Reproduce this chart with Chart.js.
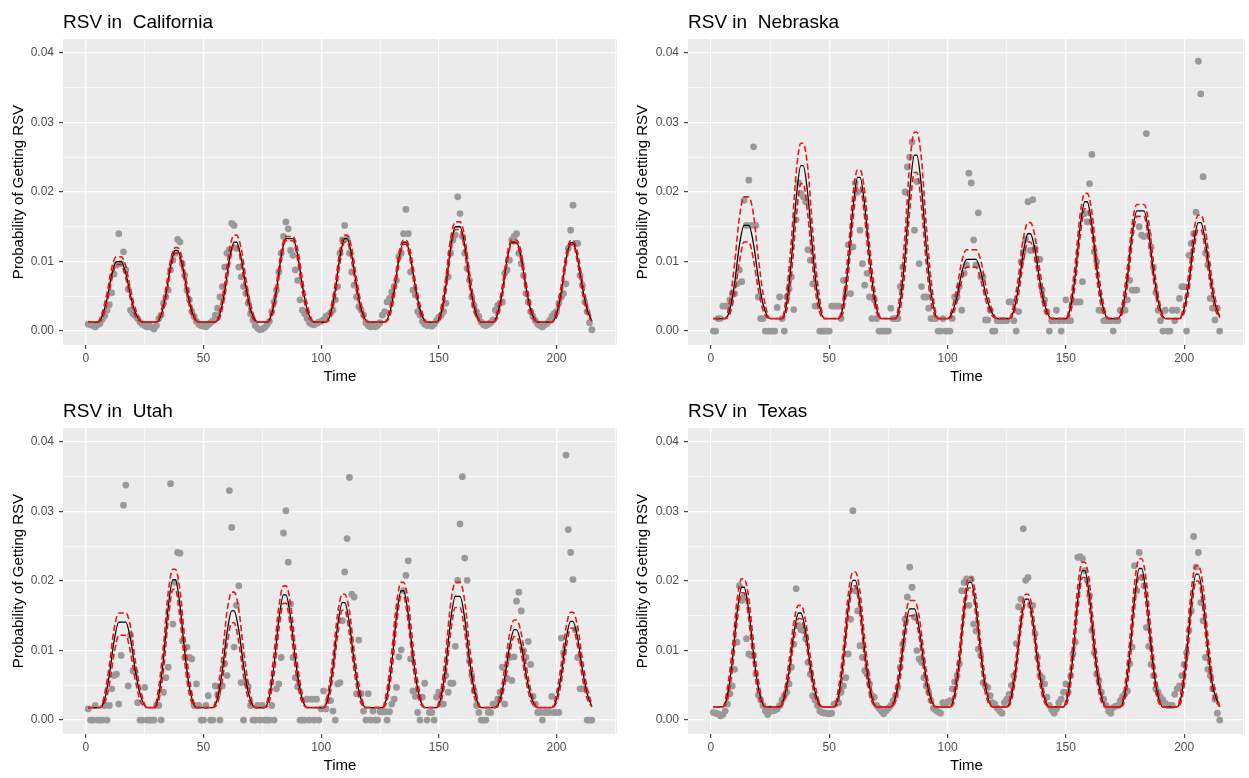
<!DOCTYPE html>
<html>
<head>
<meta charset="utf-8">
<title>RSV</title>
<script src="https://cdn.jsdelivr.net/npm/chart.js@4.4.1/dist/chart.umd.min.js"></script>
<style>
  body { margin: 0; background: #ffffff; }
  canvas { position: absolute; }
</style>
</head>
<body>
<canvas id="cali" width="624" height="389" style="left:0px;top:0px"></canvas>
<canvas id="nebr" width="625" height="389" style="left:624px;top:0px"></canvas>
<canvas id="utah" width="624" height="389" style="left:0px;top:389px"></canvas>
<canvas id="texa" width="625" height="389" style="left:624px;top:389px"></canvas>
<script>
// all values below are in units of 1e-4 (probability * 10000)
const titles = ['RSV in  California', 'RSV in  Nebraska', 'RSV in  Utah', 'RSV in  Texas'];
const xTicks = [0, 25, 50, 75, 100, 125, 150, 175, 200, 225];
const yTicks = [0, 0.005, 0.01, 0.015, 0.02, 0.025, 0.03, 0.035, 0.04];

// observed points, one per week (week 1..215)
const caObs = [
  10, 9, 8, 6, 9, 11, 17, 22, 30, 38,
  55, 82, 95, 140, 97, 114, 88, 60, 30, 25,
  22, 18, 13, 10, 8, 6, 9, 5, 3, 8,
  18, 23, 40, 49, 59, 88, 102, 112, 132, 128,
  97, 80, 59, 45, 28, 21, 14, 10, 8, 7,
  6, 9, 12, 15, 23, 33, 49, 64, 92, 112,
  117, 155, 152, 119, 92, 78, 64, 54, 40, 25,
  16, 8, 4, 2, 3, 5, 9, 14, 28, 42,
  59, 85, 112, 136, 157, 147, 116, 109, 88, 73,
  45, 30, 25, 18, 12, 10, 9, 11, 13, 14,
  16, 21, 23, 26, 30, 45, 64, 112, 131, 152,
  133, 112, 85, 66, 49, 35, 30, 23, 12, 8,
  6, 7, 6, 8, 12, 23, 28, 42, 47, 56,
  64, 73, 107, 112, 140, 175, 140, 85, 59, 52,
  28, 23, 14, 10, 8, 9, 7, 10, 15, 20,
  23, 28, 40, 78, 112, 131, 138, 193, 169, 136,
  112, 90, 73, 49, 37, 28, 21, 13, 9, 8,
  10, 12, 16, 30, 37, 40, 42, 83, 88, 102,
  131, 136, 140, 112, 97, 80, 54, 42, 28, 21,
  15, 10, 8, 6, 9, 11, 15, 21, 25, 28,
  40, 49, 54, 68, 119, 145, 181, 126, 126, 80,
  66, 42, 28, 12, 2
];
const neObs = [
  0, 0, 18, 18, 36, 36, 36, 45, 54, 54,
  68, 88, 71, 188, 152, 217, 152, 265, 152, 49,
  18, 18, 0, 0, 0, 0, 0, 34, 49, 18,
  0, 49, 61, 78, 31, 160, 213, 198, 193, 186,
  117, 102, 68, 36, 36, 0, 0, 0, 0, 0,
  36, 36, 36, 36, 18, 73, 54, 124, 54, 121,
  213, 200, 145, 97, 66, 83, 49, 18, 45, 18,
  0, 0, 0, 0, 0, 33, 18, 18, 18, 64,
  92, 200, 236, 250, 272, 145, 215, 97, 64, 49,
  49, 33, 18, 18, 18, 0, 0, 18, 0, 0,
  0, 18, 49, 49, 64, 30, 83, 95, 227, 213,
  131, 95, 170, 78, 78, 16, 16, 30, 0, 0,
  15, 15, 15, 15, 15, 42, 42, 15, 0, 28,
  100, 114, 132, 186, 116, 189, 119, 102, 103, 59,
  45, 28, 0, 15, 15, 30, 15, 0, 15, 45,
  15, 15, 42, 42, 42, 42, 71, 169, 157, 212,
  254, 114, 100, 30, 30, 15, 15, 15, 15, 0,
  15, 15, 30, 30, 30, 45, 73, 59, 59, 59,
  150, 138, 136, 284, 138, 121, 92, 55, 30, 15,
  0, 30, 0, 0, 30, 15, 30, 47, 64, 64,
  0, 109, 126, 140, 171, 388, 341, 222, 112, 95,
  47, 33, 16, 33, 0
];
const utObs = [
  16, 0, 0, 21, 0, 0, 0, 21, 0, 21,
  45, 64, 66, 23, 93, 309, 338, 49, 122, 71,
  69, 25, 0, 0, 47, 0, 0, 0, 0, 21,
  21, 0, 40, 61, 76, 340, 138, 198, 241, 240,
  114, 90, 105, 90, 88, 21, 52, 21, 0, 0,
  21, 35, 0, 0, 49, 37, 0, 49, 81, 64,
  330, 277, 105, 165, 193, 54, 0, 54, 48, 21,
  0, 0, 21, 0, 21, 0, 0, 0, 21, 0,
  45, 52, 90, 269, 301, 227, 167, 90, 61, 48,
  0, 0, 0, 30, 0, 30, 0, 30, 0, 16,
  42, 16, 28, 28, 13, 0, 52, 54, 143, 213,
  261, 349, 181, 177, 38, 115, 38, 13, 0, 38,
  0, 13, 0, 0, 12, 12, 12, 0, 12, 23,
  30, 47, 91, 101, 186, 208, 229, 88, 42, 34,
  11, 0, 33, 53, 0, 11, 11, 0, 33, 40,
  23, 23, 64, 40, 53, 53, 106, 201, 282, 350,
  233, 201, 85, 64, 42, 21, 11, 0, 0, 0,
  11, 11, 23, 23, 30, 40, 76, 23, 60, 90,
  57, 91, 171, 184, 157, 100, 90, 113, 80, 34,
  23, 11, 11, 0, 11, 11, 11, 34, 11, 11,
  11, 118, 97, 381, 274, 241, 202, 130, 90, 45,
  45, 45, 0, 0, 0
];
const txObs = [
  11, 10, 9, 6, 8, 13, 23, 38, 49, 73,
  112, 193, 172, 177, 117, 95, 93, 93, 66, 36,
  29, 21, 13, 8, 16, 13, 14, 16, 21, 29,
  35, 40, 52, 76, 109, 189, 136, 130, 129, 117,
  83, 66, 35, 29, 21, 13, 11, 10, 10, 9,
  10, 23, 24, 25, 40, 49, 61, 95, 145, 301,
  186, 157, 107, 90, 71, 66, 52, 35, 33, 21,
  17, 13, 9, 13, 17, 21, 28, 35, 47, 76,
  109, 145, 177, 220, 191, 148, 100, 88, 83, 61,
  49, 40, 28, 17, 14, 12, 10, 25, 24, 26,
  28, 45, 55, 64, 81, 186, 198, 203, 165, 203,
  138, 128, 102, 93, 54, 49, 47, 35, 25, 23,
  17, 13, 10, 25, 30, 37, 50, 64, 110, 163,
  174, 275, 201, 205, 165, 165, 124, 90, 64, 61,
  52, 33, 21, 15, 10, 16, 25, 30, 40, 52,
  40, 64, 95, 112, 234, 235, 232, 215, 201, 179,
  129, 97, 66, 57, 40, 30, 21, 13, 10, 18,
  20, 21, 28, 34, 38, 42, 81, 105, 222, 186,
  241, 205, 193, 133, 106, 80, 64, 45, 40, 33,
  29, 24, 21, 21, 21, 37, 45, 49, 64, 80,
  97, 129, 157, 264, 220, 241, 169, 143, 90, 73,
  64, 45, 30, 10, 0
];

// fitted curve (black) and the two dashed red bands, read at these weeks
const caKnots = [1,
  5, 7, 9, 11, 13, 15, 17, 19, 21, 24,
  30, 32, 34, 36, 38, 39, 41, 43, 45, 48,
  55, 57, 59, 61, 63, 64, 66, 68, 70, 73,
  77, 79, 81, 83, 85, 88, 90, 92, 94, 97,
  102, 104, 106, 108, 110, 111, 113, 115, 117, 120,
  127, 129, 131, 133, 135, 136, 138, 140, 142, 145,
  149, 151, 153, 155, 157, 159, 161, 163, 165, 168,
  173, 175, 177, 179, 181, 183, 185, 187, 189, 192,
  198, 200, 202, 204, 206, 207, 209, 211, 213, 215];
const caFit = [13,
  13, 22, 46, 81, 100, 100, 83, 51, 27, 13,
  13, 23, 52, 93, 116, 116, 95, 58, 29, 13,
  13, 25, 57, 103, 128, 128, 105, 64, 31, 13,
  13, 25, 59, 107, 133, 133, 109, 66, 32, 13,
  13, 25, 59, 107, 133, 133, 109, 66, 32, 13,
  13, 25, 57, 103, 128, 128, 105, 64, 31, 13,
  13, 27, 65, 120, 150, 150, 123, 73, 35, 13,
  13, 25, 57, 103, 128, 128, 105, 64, 31, 13,
  13, 24, 56, 102, 127, 127, 104, 63, 31, 15];
const caUpper = [13,
  13, 27, 55, 91, 107, 107, 93, 60, 33, 13,
  13, 29, 61, 102, 120, 120, 104, 67, 35, 13,
  13, 32, 69, 117, 138, 138, 119, 76, 39, 13,
  13, 31, 68, 115, 136, 136, 118, 75, 39, 13,
  13, 32, 69, 117, 138, 138, 119, 76, 39, 13,
  13, 31, 66, 111, 131, 131, 113, 72, 38, 13,
  13, 35, 78, 133, 157, 157, 135, 85, 43, 13,
  13, 31, 66, 111, 131, 131, 113, 72, 38, 13,
  13, 31, 66, 110, 130, 130, 112, 72, 38, 16];
const caLower = [13,
  13, 18, 40, 74, 96, 96, 76, 45, 22, 13,
  13, 19, 45, 86, 112, 112, 88, 51, 24, 13,
  13, 20, 49, 95, 124, 124, 97, 55, 25, 13,
  13, 20, 50, 100, 130, 130, 102, 57, 26, 13,
  13, 20, 50, 98, 128, 128, 100, 57, 26, 13,
  13, 20, 49, 96, 125, 125, 98, 56, 25, 13,
  13, 21, 56, 111, 146, 146, 114, 64, 28, 13,
  13, 20, 49, 97, 126, 126, 99, 56, 25, 13,
  13, 20, 49, 95, 124, 124, 97, 55, 25, 14];

const neKnots = [1,
  6, 8, 10, 12, 14, 16, 18, 20, 22, 25,
  30, 32, 34, 36, 38, 39, 41, 43, 45, 48,
  54, 56, 58, 60, 62, 63, 65, 67, 69, 72,
  78, 80, 82, 84, 86, 87, 89, 91, 93, 96,
  100, 102, 104, 106, 108, 112, 114, 116, 118, 121,
  126, 128, 130, 132, 134, 135, 137, 139, 141, 144,
  150, 152, 154, 156, 158, 159, 161, 163, 165, 168,
  172, 174, 176, 178, 180, 183, 185, 187, 189, 192,
  198, 200, 202, 204, 206, 207, 209, 211, 213, 215];
const neFit = [18,
  18, 31, 69, 123, 152, 152, 125, 77, 39, 18,
  18, 40, 102, 190, 238, 238, 194, 115, 53, 18,
  18, 38, 95, 176, 221, 221, 180, 107, 50, 18,
  18, 42, 107, 201, 253, 253, 206, 121, 56, 18,
  18, 27, 50, 84, 103, 103, 86, 55, 32, 18,
  18, 30, 64, 113, 140, 140, 116, 72, 38, 18,
  18, 35, 82, 149, 186, 186, 152, 92, 45, 18,
  18, 34, 77, 139, 173, 173, 142, 86, 43, 18,
  18, 32, 70, 126, 156, 156, 128, 79, 40, 20];
const neUpper = [18,
  18, 44, 97, 163, 193, 193, 167, 106, 55, 18,
  18, 56, 131, 227, 270, 270, 232, 144, 71, 18,
  18, 50, 114, 196, 232, 232, 200, 125, 63, 18,
  18, 58, 139, 240, 286, 286, 246, 152, 74, 18,
  18, 33, 63, 100, 117, 117, 102, 68, 39, 18,
  18, 39, 80, 133, 156, 156, 135, 87, 47, 18,
  18, 45, 99, 167, 198, 198, 171, 108, 56, 18,
  18, 43, 92, 154, 182, 182, 157, 100, 52, 18,
  18, 40, 85, 142, 167, 167, 145, 93, 49, 21];
const neLower = [18,
  18, 25, 53, 99, 128, 128, 102, 60, 30, 18,
  18, 30, 80, 162, 212, 212, 165, 92, 39, 18,
  18, 29, 79, 159, 208, 208, 162, 90, 39, 18,
  18, 31, 85, 173, 228, 228, 178, 98, 41, 18,
  18, 22, 42, 73, 92, 92, 74, 46, 26, 18,
  18, 25, 53, 99, 128, 128, 102, 60, 30, 18,
  18, 27, 69, 135, 176, 176, 138, 78, 35, 18,
  18, 27, 65, 127, 165, 165, 130, 74, 34, 18,
  18, 26, 59, 113, 146, 146, 115, 67, 32, 19];

const utKnots = [1,
  6, 8, 10, 12, 14, 17, 19, 21, 23, 26,
  29, 31, 33, 35, 37, 38, 40, 42, 44, 47,
  54, 56, 58, 60, 62, 63, 65, 67, 69, 72,
  76, 78, 80, 82, 84, 85, 87, 89, 91, 94,
  101, 103, 105, 107, 109, 110, 112, 114, 116, 119,
  126, 128, 130, 132, 134, 135, 137, 139, 141, 144,
  149, 151, 153, 155, 157, 159, 161, 163, 165, 168,
  174, 176, 178, 180, 182, 183, 185, 187, 189, 192,
  198, 200, 202, 204, 206, 207, 209, 211, 213, 215];
const utFit = [18,
  18, 30, 65, 114, 141, 141, 116, 72, 38, 18,
  18, 36, 88, 162, 202, 202, 165, 99, 47, 18,
  18, 32, 71, 126, 157, 157, 129, 79, 40, 18,
  18, 34, 80, 144, 180, 180, 148, 89, 44, 18,
  18, 33, 75, 136, 169, 169, 139, 84, 42, 18,
  18, 35, 82, 149, 186, 186, 152, 92, 45, 18,
  18, 34, 79, 143, 178, 178, 146, 88, 44, 18,
  18, 29, 61, 105, 130, 130, 108, 67, 36, 18,
  18, 30, 65, 115, 142, 142, 117, 73, 38, 20];
const utUpper = [18,
  18, 38, 79, 131, 154, 154, 134, 86, 47, 18,
  18, 48, 108, 183, 217, 217, 187, 118, 60, 18,
  18, 43, 93, 156, 184, 184, 159, 101, 53, 18,
  18, 44, 97, 163, 193, 193, 167, 106, 55, 18,
  18, 42, 91, 153, 181, 181, 157, 100, 52, 18,
  18, 45, 99, 167, 198, 198, 171, 108, 56, 18,
  18, 45, 99, 167, 198, 198, 171, 108, 56, 18,
  18, 37, 75, 123, 144, 144, 125, 81, 44, 18,
  18, 39, 80, 132, 155, 155, 134, 87, 47, 22];
const utLower = [18,
  18, 24, 51, 95, 122, 122, 97, 58, 29, 18,
  18, 28, 72, 144, 188, 188, 147, 83, 37, 18,
  18, 25, 57, 108, 140, 140, 111, 64, 31, 18,
  18, 27, 66, 129, 168, 168, 132, 75, 35, 18,
  18, 26, 63, 122, 158, 158, 124, 71, 33, 18,
  18, 28, 69, 136, 178, 178, 140, 79, 36, 18,
  18, 27, 64, 125, 162, 162, 127, 73, 34, 18,
  18, 24, 51, 93, 120, 120, 96, 57, 29, 18,
  18, 25, 54, 102, 132, 132, 105, 61, 31, 19];

const txKnots = [1,
  5, 7, 9, 11, 13, 14, 16, 18, 20, 23,
  29, 31, 33, 35, 37, 38, 40, 42, 44, 47,
  52, 54, 56, 58, 60, 61, 63, 65, 67, 70,
  76, 78, 80, 82, 84, 86, 88, 90, 92, 95,
  101, 103, 105, 107, 109, 110, 112, 114, 116, 119,
  125, 127, 129, 131, 133, 134, 136, 138, 140, 143,
  149, 151, 153, 155, 157, 158, 160, 162, 164, 167,
  173, 175, 177, 179, 181, 182, 184, 186, 188, 191,
  197, 199, 201, 203, 205, 206, 208, 210, 212, 215];
const txFit = [19,
  19, 36, 84, 153, 191, 191, 157, 95, 47, 19,
  19, 33, 70, 124, 154, 154, 127, 78, 41, 19,
  19, 37, 88, 161, 201, 201, 165, 99, 48, 19,
  19, 33, 73, 129, 160, 160, 132, 81, 42, 19,
  19, 37, 87, 159, 198, 198, 162, 98, 48, 19,
  19, 35, 78, 140, 174, 174, 143, 87, 44, 19,
  19, 39, 93, 172, 215, 215, 176, 105, 50, 19,
  19, 39, 95, 174, 218, 218, 178, 107, 51, 19,
  19, 38, 92, 168, 210, 210, 172, 103, 50, 19];
const txUpper = [19,
  19, 47, 102, 172, 203, 203, 175, 111, 58, 19,
  19, 41, 85, 140, 165, 165, 143, 92, 50, 19,
  19, 48, 106, 180, 213, 213, 184, 116, 60, 19,
  19, 42, 88, 146, 172, 172, 149, 96, 51, 19,
  19, 47, 103, 173, 205, 205, 177, 112, 58, 19,
  19, 43, 92, 153, 181, 181, 157, 100, 53, 19,
  19, 50, 113, 192, 227, 227, 196, 123, 63, 19,
  19, 51, 115, 196, 232, 232, 200, 126, 64, 19,
  19, 49, 110, 187, 222, 222, 192, 121, 62, 19];
const txLower = [19,
  19, 29, 71, 140, 183, 183, 144, 81, 37, 19,
  19, 27, 60, 113, 146, 146, 116, 67, 33, 19,
  19, 29, 75, 148, 193, 193, 151, 85, 38, 19,
  19, 27, 61, 116, 150, 150, 119, 69, 33, 19,
  19, 29, 74, 146, 190, 190, 149, 84, 38, 19,
  19, 28, 67, 129, 168, 168, 132, 76, 35, 19,
  19, 30, 79, 157, 205, 205, 160, 90, 39, 19,
  19, 30, 79, 159, 208, 208, 163, 91, 40, 19,
  19, 30, 77, 153, 200, 200, 157, 88, 39, 19];

Chart.defaults.font.family = '"Liberation Sans", Arial, Helvetica, sans-serif';

// grey panel behind the grid, like ggplot
const panelBg = {
  id: 'panelBg',
  beforeDraw(chart) {
    const a = chart.chartArea;
    chart.ctx.save();
    chart.ctx.fillStyle = '#ebebeb';
    chart.ctx.fillRect(a.left, a.top, a.right - a.left, a.bottom - a.top);
    chart.ctx.restore();
  }
};

// title sits at the left edge of the panel
const panelTitle = {
  id: 'panelTitle',
  afterDraw(chart, args, opts) {
    const ctx = chart.ctx;
    ctx.save();
    ctx.font = '19px "Liberation Sans", Arial, sans-serif';
    ctx.fillStyle = '#000000';
    ctx.textAlign = 'left';
    ctx.textBaseline = 'alphabetic';
    ctx.fillText(opts.text, chart.chartArea.left, 28);
    ctx.restore();
  }
};

function toPoints(xs, vals) {
  return vals.map((v, i) => ({x: xs[i], y: v / 10000}));
}

function makeChart(id, title, obs, knots, fit, upper, lower, yWidth, padRight) {
  const weeks = obs.map((v, i) => i + 1);
  const red = 'rgb(240, 20, 20)';
  return new Chart(document.getElementById(id), {
    type: 'line',
    data: {
      datasets: [
        {data: toPoints(knots, upper), borderColor: red, borderWidth: 1.6, borderDash: [6, 3],
         pointRadius: 0, cubicInterpolationMode: 'monotone', order: 0},
        {data: toPoints(knots, lower), borderColor: red, borderWidth: 1.6, borderDash: [6, 3],
         pointRadius: 0, cubicInterpolationMode: 'monotone', order: 0},
        {data: toPoints(knots, fit), borderColor: '#000000', borderWidth: 1.3,
         pointRadius: 0, cubicInterpolationMode: 'monotone', order: 1},
        {data: toPoints(weeks, obs), showLine: false, pointRadius: 3.4, pointBorderWidth: 0,
         pointBackgroundColor: '#999999', pointBorderColor: '#999999', order: 2}
      ]
    },
    options: {
      responsive: false,
      animation: false,
      events: [],
      layout: {padding: {top: 39, right: padRight, bottom: 0, left: 0}},
      plugins: {
        legend: {display: false},
        tooltip: {enabled: false},
        panelTitle: {text: title}
      },
      scales: {
        x: {
          type: 'linear', min: -9.7, max: 225.7,
          afterBuildTicks: s => { s.ticks = xTicks.map(v => ({value: v})); },
          afterFit: s => { s.height = 44; },
          border: {display: false},
          grid: {
            color: '#ffffff',
            lineWidth: c => (c.index % 2 ? 0.6 : 1.3),
            tickColor: c => (c.index % 2 ? 'rgba(0,0,0,0)' : '#333333'),
            tickLength: 4, tickWidth: 1.1
          },
          ticks: {
            autoSkip: false, maxRotation: 0, padding: 2, color: '#4d4d4d', font: {size: 12},
            callback: (v, i) => (i % 2 ? '' : String(v))
          },
          title: {display: true, text: 'Time', color: '#000000', font: {size: 15}, padding: {top: 0, bottom: 3}}
        },
        y: {
          type: 'linear', min: -0.002, max: 0.042,
          afterBuildTicks: s => { s.ticks = yTicks.map(v => ({value: v})); },
          afterFit: s => { s.width = yWidth; },
          border: {display: false},
          grid: {
            color: '#ffffff',
            lineWidth: c => (c.index % 2 ? 0.6 : 1.3),
            tickColor: c => (c.index % 2 ? 'rgba(0,0,0,0)' : '#333333'),
            tickLength: 4, tickWidth: 1.1
          },
          ticks: {
            autoSkip: false, padding: 5, color: '#4d4d4d', font: {size: 12},
            callback: (v, i) => (i % 2 ? '' : v.toFixed(2))
          },
          title: {display: true, text: 'Probability of Getting RSV', color: '#000000', font: {size: 15}, padding: {top: 10, bottom: 0}}
        }
      }
    },
    plugins: [panelBg, panelTitle]
  });
}

makeChart('cali', titles[0], caObs, caKnots, caFit, caUpper, caLower, 63, 7);
makeChart('nebr', titles[1], neObs, neKnots, neFit, neUpper, neLower, 64, 4);
makeChart('utah', titles[2], utObs, utKnots, utFit, utUpper, utLower, 63, 7);
makeChart('texa', titles[3], txObs, txKnots, txFit, txUpper, txLower, 64, 4);
</script>
</body>
</html>
